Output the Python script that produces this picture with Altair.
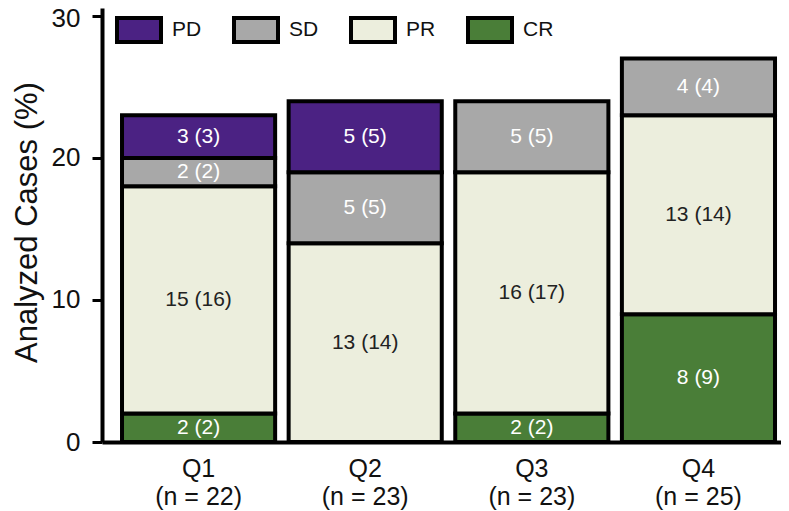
import altair as alt
import pandas as pd

quarters = ["Q1", "Q2", "Q3", "Q4"]
ns = [22, 23, 23, 25]
stack_order = ["CR", "PR", "SD", "PD"]          # bottom -> top
legend_order = ["PD", "SD", "PR", "CR"]
fill_colors = ["#4B2283", "#A8A8A8", "#ECEEDD", "#4A7E38"]

cr_n = [2, 0, 2, 8]
cr_pct = [2, 0, 2, 9]
pr_n = [15, 13, 16, 13]
pr_pct = [16, 14, 17, 14]
sd_n = [2, 5, 5, 4]
sd_pct = [2, 5, 5, 4]
pd_n = [3, 5, 0, 0]
pd_pct = [3, 5, 0, 0]

series = {"CR": (cr_n, cr_pct), "PR": (pr_n, pr_pct), "SD": (sd_n, sd_pct), "PD": (pd_n, pd_pct)}
xlabels = [f"{q}|(n = {n})" for q, n in zip(quarters, ns)]

rows = []
for i, q in enumerate(xlabels):
    for r in stack_order:
        cnt, pct = series[r][0][i], series[r][1][i]
        if pct > 0:
            rows.append({"q": q, "resp": r, "ord": stack_order.index(r), "n": cnt, "pct": pct})
df = pd.DataFrame(rows)

FONT = "Liberation Sans"

base = alt.Chart(df).transform_stack(
    stack="pct", groupby=["q"], sort=[alt.SortField("ord", order="ascending")], as_=["y0", "y1"]
).transform_calculate(
    mid="(datum.y0 + datum.y1) / 2",
    lab="datum.n + ' (' + datum.pct + ')'",
)

xscale = alt.Scale(paddingInner=0.081, paddingOuter=0.078, align=0.77)
yscale = alt.Scale(domain=[0, 30.56], nice=False, zero=True)

bars = base.mark_bar(stroke="black", strokeWidth=4).encode(
    x=alt.X("q:N", sort=xlabels, scale=xscale, axis=alt.Axis(
        title=None, labelExpr="split(datum.label, '|')", labelAngle=0, ticks=False,
        domainWidth=4, domainColor="black", labelFontSize=25, labelPadding=14,
        labelLineHeight=28, labelColor="#111", labelFont=FONT)),
    y=alt.Y("y0:Q", scale=yscale, axis=alt.Axis(
        values=[0, 10, 20, 30], grid=False, domainWidth=4, domainColor="black",
        tickWidth=3, tickColor="black", tickSize=10, labelFontSize=26, labelPadding=12,
        labelOffset={"condition": {"test": "datum.value == 30", "value": 3}, "value": 0},
        labelColor="#111", labelFont=FONT,
        title="Analyzed Cases (%)", titleFontSize=31, titleFontWeight="normal",
        titleFont=FONT, titleColor="#111", titleX=-66, titleY=214, titleAngle=270,
        titleBaseline="alphabetic", titleAlign="center")),
    y2="y1:Q",
    color=alt.Color("resp:N", scale=alt.Scale(domain=legend_order, range=fill_colors),
                    legend=alt.Legend(
                        title=None, orient="none", legendX=13, legendY=-2, direction="horizontal",
                        columns=4, columnPadding=24, padding=0,
                        symbolType="M-1,-0.545L1,-0.545L1,0.545L-1,0.545Z", symbolSize=1936,
                        symbolStrokeColor="black", symbolStrokeWidth=4, symbolOpacity=1,
                        labelFontSize=21, labelOffset=9, labelFont=FONT, labelColor="#111")),
)

text = base.mark_text(fontSize=21, font=FONT).encode(
    x=alt.X("q:N", sort=xlabels),
    y=alt.Y("mid:Q"),
    text="lab:N",
    color=alt.condition("datum.resp == 'PR'", alt.value("#222222"), alt.value("#ffffff")),
)

chart = alt.layer(bars, text).properties(
    width=679, height=434,
    autosize=alt.AutoSizeParams(type="none"),
    padding={"left": 94, "top": 0, "right": 0, "bottom": 70},
).configure_view(stroke=None)

chart.save("out.html", embed_options={"renderer": "svg", "actions": False})
